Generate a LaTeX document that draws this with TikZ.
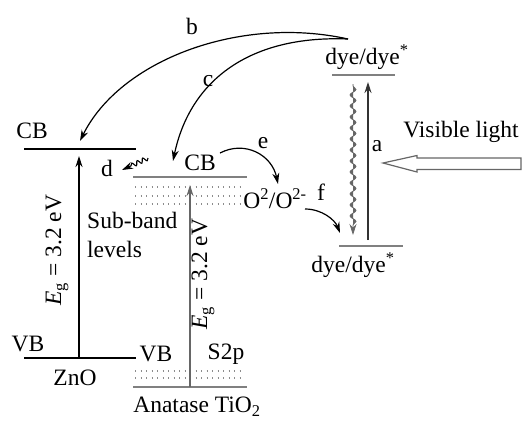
\documentclass[tikz,border=0pt]{standalone}
\usepackage{fontspec}
\setmainfont{Liberation Serif}
\usetikzlibrary{arrows.meta,decorations.pathmorphing}
\begin{document}
\begin{tikzpicture}[x=1pt,y=-1pt,
 every node/.style={font=\fontsize{23.5}{29}\selectfont, inner sep=0pt},
 band/.style={line width=2.6pt},
 gband/.style={line width=2.4pt, draw=black!50},
 arr/.style={line width=1.3pt, -{Stealth[length=11pt,width=7pt]}},
 garr/.style={arr, draw=black!60, fill=black!60},
 dotrow/.style={line width=1.6pt, draw=black!45, dash pattern=on 1.2pt off 4.3pt},
 wavy/.style={decorate, decoration={snake, amplitude=3pt, segment length=11pt, pre length=2pt, post length=10pt}},
 squig/.style={decorate, decoration={snake, amplitude=2.2pt, segment length=6pt, post length=8pt}},
]
\useasboundingbox (0,0) rectangle (523,421);

% ---- ZnO bands ----
\coordinate (zcbL) at (24,149); \coordinate (zcbR) at (136,149);
\coordinate (zvbL) at (24,358); \coordinate (zvbR) at (136,358);
\draw[band] (zcbL) -- (zcbR);
\draw[band, line width=2pt] (zvbL) -- (zvbR);
\coordinate (zgapB) at (79,358); \coordinate (zgapT) at (79,156);
\draw[arr] (zgapB) -- (zgapT);
\node (zcb) at (32,131) {CB};
\node (zvb) at (28,344) {VB};
\node (zno) at (75,378) {ZnO};
\node[rotate=90] (zeg) at (57,250) {\textit{E}\textsubscript{g} = 3.2 eV};

% ---- TiO2 bands ----
\coordinate (tcbL) at (133,177); \coordinate (tcbR) at (247,177);
\coordinate (tvbL) at (133,387); \coordinate (tvbR) at (247,387);
\draw[gband] (tcbL) -- (tcbR);
\draw[gband] (tvbL) -- (tvbR);
\foreach \yy in {187,196,204} \draw[dotrow] (135,\yy) -- (243,\yy);
\foreach \yy in {371,378} \draw[dotrow] (135,\yy) -- (243,\yy);
\coordinate (tgapB) at (190,387); \coordinate (tgapT) at (190,185);
\draw[garr] (tgapB) -- (tgapT);
\node (tcb) at (200,163) {CB};
\node (tvb) at (156,354) {VB};
\node (s2p) at (226,354) {S2p};
\node (tio) at (197,407) {Anatase TiO\textsubscript{2}};
\node[rotate=90] (teg) at (203,274) {\textit{E}\textsubscript{g} = 3.2 eV};
\node[align=left, anchor=west] (sub) at (87,235) {Sub-band\\levels};

% ---- d ----
\coordinate (dS) at (148,158); \coordinate (dE) at (122,170);
\draw[arr, line width=1.1pt, squig] (dS) -- (dE);
\node (dl) at (107,168) {d};

% ---- dye levels ----
\coordinate (dtL) at (332,75); \coordinate (dtR) at (395,75);
\coordinate (dbL) at (339,246); \coordinate (dbR) at (403,246);
\draw[gband] (dtL) -- (dtR);
\draw[gband] (dbL) -- (dbR);
\node (dyet) at (367,57) {dye/dye\textsuperscript{*}};
\node (dyeb) at (353,265) {dye/dye\textsuperscript{*}};
\coordinate (aB) at (368,240); \coordinate (aT) at (368,82);
\draw[arr, draw=black!80, fill=black!80] (aB) -- (aT);
\node (al) at (377,146) {a};
\coordinate (wT) at (353,84); \coordinate (wB) at (353,235);
\draw[arr, line width=0.8pt, draw=black!60, fill=black!60, wavy] (wT) -- (wB);

% ---- visible light ----
\node (vis) at (461,132) {Visible light};
\coordinate (tip) at (383,163);
\draw[line width=1.2pt, draw=black!60, line join=miter]
  (tip) -- (417,155.5) -- (417,158) -- (521,158) -- (521,169.5) -- (417,169.5) -- (417,172) -- cycle;

% ---- b, c ----
\coordinate (src) at (348,39);
\coordinate (bE) at (80,141);
\coordinate (cE) at (173,161);
\draw[arr, line width=1.2pt] (src) .. controls (240,15) and (120,60) .. (bE);
\draw[arr, line width=1.2pt] (src) .. controls (250,35) and (190,80) .. (cE);
\node (bl) at (192,26) {b};
\node (cl) at (208,81) {c};

% ---- e, f ----
\coordinate (eS) at (220,153); \coordinate (eE) at (278,184);
\draw[arr, line width=1.2pt] (eS) .. controls (245,140) and (272,155) .. (eE);
\node (el) at (263,143) {e};
\node (ox) at (275,199) {O\textsuperscript{2}/O\textsuperscript{2-}};
\coordinate (fS) at (305,209); \coordinate (fE) at (340,233);
\draw[arr, line width=1.2pt] (fS) .. controls (322,209) and (335,220) .. (fE);
\node (fl) at (321,192) {f};
\end{tikzpicture}
\end{document}
